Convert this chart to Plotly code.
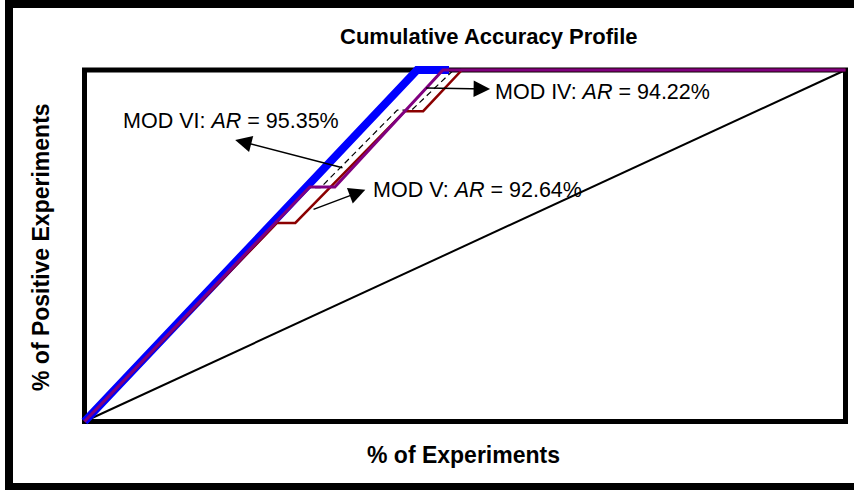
import plotly.graph_objects as go

# ---- data (percent) ----
random_x = [0, 100]
random_y = [0, 100]

perfect_x = [0, 43.7, 47.9]
perfect_y = [0, 100, 100]

mod6_x = [0, 29.5, 31.0, 41.1, 43.0, 48.5, 100]
mod6_y = [0, 66.5, 66.5, 88.6, 88.6, 100, 100]

mod5_x = [0, 25.3, 27.7, 42.1, 44.5, 49.6, 100]
mod5_y = [0, 56.5, 56.5, 88.3, 88.3, 100, 100]

mod4_x = [0, 29.6, 32.9, 47.1, 100]
mod4_y = [0, 66.7, 66.7, 100, 100]

labels = ["MOD VI: <i>AR</i> = 95.35%", "MOD IV: <i>AR</i> = 94.22%", "MOD V: <i>AR</i> = 92.64%"]
label_x = [4.8, 53.7, 37.6]
label_y = [85.5, 93.7, 65.9]
arrow_head_x = [19.8, 53.3, 36.9]
arrow_head_y = [80.1, 94.6, 65.9]
arrow_tail_x = [34.1, 44.7, 29.9]
arrow_tail_y = [72.1, 94.9, 60.2]

W, H = 854, 490
# plot area in pixels
PL, PR, PT, PB = 80, 850, 65, 426
# data 0..100 pixel locations
X0, X100 = 84.5, 845.5
Y0, Y100 = 421.5, 70
sx = (X100 - X0) / 100.0
sy = (Y0 - Y100) / 100.0
xr = [-(X0 - PL) / sx, 100 + (PR - X100) / sx]
yr = [-(PB - Y0) / sy, 100 + (Y100 - PT) / sy]

FONT = "Liberation Sans, Arial, sans-serif"

fig = go.Figure()
fig.add_trace(go.Scatter(x=random_x, y=random_y, mode="lines",
                         line=dict(color="black", width=2), showlegend=False))
fig.add_trace(go.Scatter(x=perfect_x, y=perfect_y, mode="lines",
                         line=dict(color="#0000FF", width=8), showlegend=False))
fig.add_trace(go.Scatter(x=mod6_x, y=mod6_y, mode="lines",
                         line=dict(color="black", width=1.2, dash="6px,4px"), showlegend=False))
fig.add_trace(go.Scatter(x=mod5_x, y=mod5_y, mode="lines",
                         line=dict(color="#8B0000", width=2.5), showlegend=False))
fig.add_trace(go.Scatter(x=mod4_x, y=mod4_y, mode="lines",
                         line=dict(color="#800080", width=3), showlegend=False))

# plot border
fig.add_shape(type="rect", xref="x", yref="y", x0=0, y0=0, x1=100, y1=100,
              line=dict(color="black", width=5), layer="below")

# outer frame (paper coords)
def px2paper_x(p):
    return (p - PL) / (PR - PL)

def px2paper_y(p):
    return (PB - p) / (PB - PT)

fig.add_shape(type="rect", xref="paper", yref="paper",
              x0=px2paper_x(9), x1=px2paper_x(870), y0=px2paper_y(487), y1=px2paper_y(4),
              line=dict(color="black", width=8), layer="below")

for t, lx, ly in zip(labels, label_x, label_y):
    fig.add_annotation(x=lx, y=ly, xref="x", yref="y", text=t, showarrow=False,
                       xanchor="left", yanchor="middle",
                       font=dict(family=FONT, size=21.5, color="black"))

for hx, hy, tx, ty in zip(arrow_head_x, arrow_head_y, arrow_tail_x, arrow_tail_y):
    fig.add_annotation(x=hx, y=hy, xref="x", yref="y", ax=tx, ay=ty, axref="x", ayref="y",
                       text="", showarrow=True, arrowhead=2, arrowsize=2.2, arrowwidth=1.5,
                       arrowcolor="black")

fig.add_annotation(x=px2paper_x(489), y=px2paper_y(36), xref="paper", yref="paper",
                   text="<b>Cumulative Accuracy Profile</b>", showarrow=False,
                   xanchor="center", yanchor="middle",
                   font=dict(family=FONT, size=22, color="black"))
fig.add_annotation(x=px2paper_x(463), y=px2paper_y(455), xref="paper", yref="paper",
                   text="<b>% of Experiments</b>", showarrow=False,
                   xanchor="center", yanchor="middle",
                   font=dict(family=FONT, size=23, color="black"))
fig.add_annotation(x=px2paper_x(41), y=px2paper_y(247), xref="paper", yref="paper",
                   text="<b>% of Positive Experiments</b>", showarrow=False, textangle=-90,
                   xanchor="center", yanchor="middle",
                   font=dict(family=FONT, size=23, color="black"))

fig.update_layout(
    width=W, height=H,
    margin=dict(l=PL, r=W - PR, t=PT, b=H - PB, pad=0),
    paper_bgcolor="white", plot_bgcolor="white",
    xaxis=dict(range=xr, showgrid=False, zeroline=False, showticklabels=False,
               ticks="", showline=False, fixedrange=True),
    yaxis=dict(range=yr, showgrid=False, zeroline=False, showticklabels=False,
               ticks="", showline=False, fixedrange=True),
)

fig.write_html("out.html", config={"displayModeBar": False},
               post_script="document.body.style.margin='0';document.body.style.overflow='hidden';")
